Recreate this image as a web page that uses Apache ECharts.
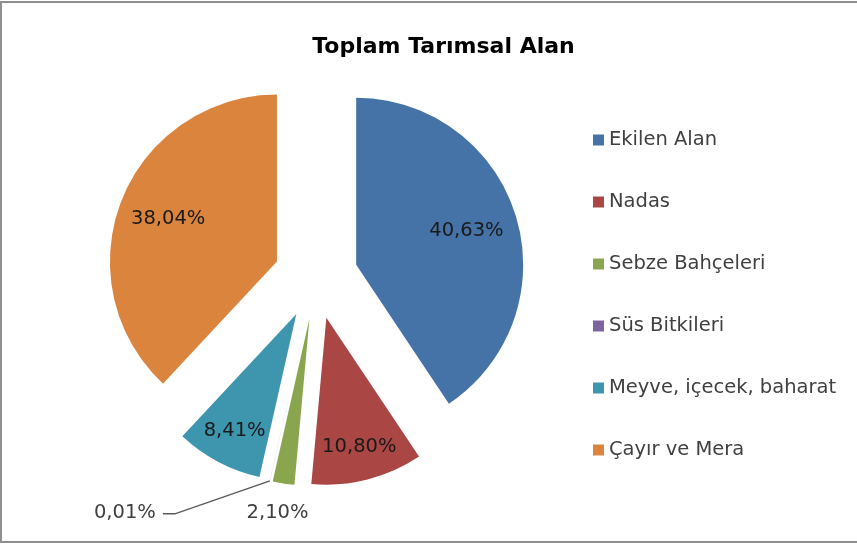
<!DOCTYPE html>
<html><head><meta charset="utf-8">
<script src="https://cdn.jsdelivr.net/npm/echarts@6/dist/echarts.min.js"></script>
<style>html,body{margin:0;padding:0;background:#fff}#c{width:857px;height:544px}</style>
</head><body><div id="c"></div>
<script>
const chartTitle = 'Toplam Tarımsal Alan';
const categories = ['Ekilen Alan', 'Nadas', 'Sebze Bahçeleri', 'Süs Bitkileri', 'Meyve, içecek, baharat', 'Çayır ve Mera'];
const values = [40.63, 10.80, 2.10, 0.01, 8.41, 38.04];
const colors = ['#4572A7', '#AA4643', '#89A54E', '#7B64A0', '#3D96AE', '#DB843D'];

// layout constants
const CX = 316, CY = 277, R = 167, OFF = 42;
const FONT = '"DejaVu Sans", Verdana, sans-serif';
const insideRatio = [0.69, 0.80, null, null, 0.79, 0.70];

const total = values.reduce((a, b) => a + b, 0);
let acc = 0;
const dirs = values.map(v => {
  const mid = (acc + v / 2) / total * Math.PI * 2;
  acc += v;
  return [Math.sin(mid), -Math.cos(mid)];
});
const fmt = v => v.toFixed(2).replace('.', ',') + '%';

// one pie per exploded slice: same angles, only slice k visible, centre pushed out along its mid-angle
const series = categories.map((_, k) => {
  const c = [CX + OFF * dirs[k][0], CY + OFF * dirs[k][1]];
  const inside = insideRatio[k] != null;
  return {
    type: 'pie',
    name: 's' + k,
    center: c,
    radius: [0, R],
    startAngle: 90,
    clockwise: true,
    avoidLabelOverlap: false,
    emphasis: { disabled: true },
    silent: true,
    label: { fontFamily: FONT, fontSize: 19.5 },
    data: categories.map((name, j) => ({
      name: name,
      value: values[j],
      itemStyle: j === k ? { color: colors[j], borderWidth: 0 } : { color: 'rgba(0,0,0,0)', borderWidth: 0 },
      label: j === k ? {
        show: true,
        position: inside ? 'inside' : 'outside',
        color: inside ? '#1a1a1a' : '#404040',
        formatter: p => fmt(p.value)
      } : { show: false },
      labelLine: { show: j === k && k === 3, lineStyle: { color: '#5a5a5a', width: 1.5 } }
    })),
    labelLine: { length: 10, length2: 10 },
    labelLayout: function (params) {
      if (params.dataIndex !== k) return {};
      const d = dirs[k];
      if (inside) {
        const r = insideRatio[k] * R;
        return { x: c[0] + r * d[0], y: c[1] + r * d[1], align: 'center', verticalAlign: 'middle' };
      }
      const p0 = [c[0] + R * d[0], c[1] + R * d[1]];
      if (k === 3) {
        return {
          x: p0[0] - 114, y: p0[1] + 32, align: 'right', verticalAlign: 'middle',
          labelLinePoints: [p0, [p0[0] - 95, p0[1] + 33], [p0[0] - 107, p0[1] + 33]]
        };
      }
      return { x: p0[0] - 6, y: p0[1] + 29, align: 'center', verticalAlign: 'middle' };
    }
  };
});

const chart = echarts.init(document.getElementById('c'), null, { renderer: 'canvas' });
chart.setOption({
  animation: false,
  backgroundColor: '#ffffff',
  graphic: [
    { type: 'rect', shape: { x: 1, y: 2, width: 880, height: 540 }, style: { fill: 'none', stroke: '#8f8f8f', lineWidth: 2 }, silent: true },
    { type: 'text', x: 443.5, y: 47, style: { text: chartTitle, font: 'bold 22px ' + FONT, fill: '#000', textAlign: 'center', textVerticalAlign: 'middle' }, silent: true }
  ],
  legend: {
    orient: 'vertical',
    left: 588,
    top: 123,
    itemWidth: 11,
    itemHeight: 11,
    itemGap: 38,
    icon: 'rect',
    selectedMode: false,
    data: categories.map((name, i) => ({ name: name, itemStyle: { color: colors[i], opacity: 1, borderWidth: 0 } })),
    textStyle: { fontFamily: FONT, fontSize: 19.5, color: '#404040', lineHeight: 24 }
  },
  series: series
});
</script></body></html>
